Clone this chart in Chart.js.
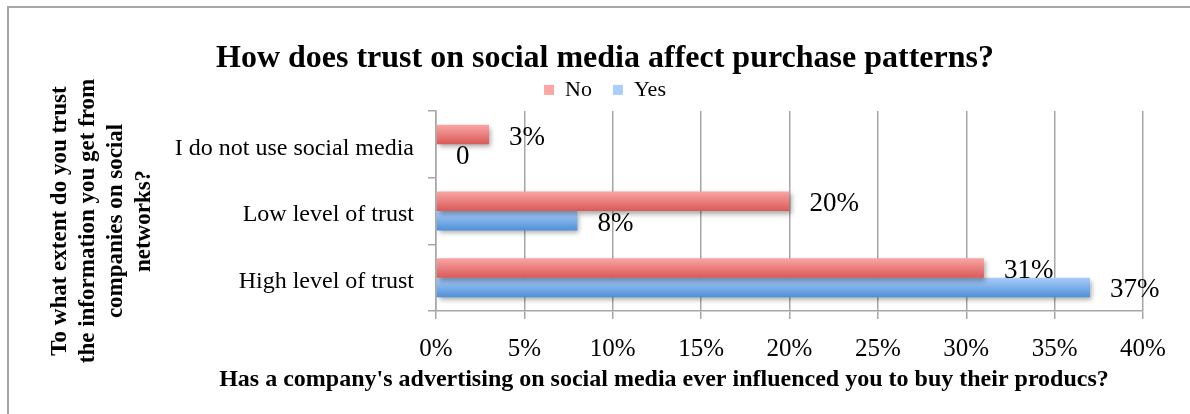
<!DOCTYPE html>
<html>
<head>
<meta charset="utf-8">
<title>Trust on social media and purchase patterns</title>
<script src="https://cdn.jsdelivr.net/npm/chart.js@4.4.1/dist/chart.umd.min.js"></script>
<style>
  html, body { margin: 0; padding: 0; background: #fff; }
  #frame { position: relative; width: 1190px; height: 414px; }
</style>
</head>
<body>
<div id="frame">
  <canvas id="trustChart" width="1190" height="414"></canvas>
</div>
<script>
// categories, top to bottom
const trustLevels = ['I do not use social media', 'Low level of trust', 'High level of trust'];
// share of respondents (%) per answer
const noValues = [3, 20, 31];
const yesValues = [0, 8, 37];
// x axis ticks
const xMin = 0;
const xMax = 40;
const xStep = 5;

const chartTitle = 'How does trust on social media affect purchase patterns?';
const xTitle = "Has a company's advertising on social media ever influenced you to buy their producs?";
const yTitle = ['To what extent do you trust', 'the information you get from', 'companies on social', 'networks?'];

const SERIF = "'Liberation Serif', 'Times New Roman', serif";
const GRID = '#a6a6a6';

Chart.defaults.font.family = SERIF;
Chart.defaults.color = '#000';

// vertical gradient across each bar, light on top
function barFill(top, bottom, flat) {
    return ctx => {
        const el = ctx.element;
        if (!el || el.y == null || isNaN(el.y) || !el.height) return flat;
        const g = ctx.chart.ctx.createLinearGradient(0, el.y - el.height / 2, 0, el.y + el.height / 2);
        g.addColorStop(0, top);
        g.addColorStop(1, bottom);
        return g;
    };
}

function valueLabel(v) {
    return v === 0 ? '0' : v + '%';
}

// soft drop shadow under the bars
const barShadow = {
    id: 'barShadow',
    beforeDatasetsDraw(chart) {
        const c = chart.ctx;
        c.save();
        c.shadowColor = 'rgba(0, 0, 0, 0.35)';
        c.shadowBlur = 5;
        c.shadowOffsetX = 2;
        c.shadowOffsetY = 3;
    },
    afterDatasetsDraw(chart) {
        chart.ctx.restore();
    }
};

// value labels to the right of each bar
const valueLabels = {
    id: 'valueLabels',
    afterDatasetsDraw(chart) {
        const c = chart.ctx;
        c.save();
        c.font = '27px ' + SERIF;
        c.fillStyle = '#000';
        c.textAlign = 'left';
        c.textBaseline = 'middle';
        chart.data.datasets.forEach((ds, di) => {
            chart.getDatasetMeta(di).data.forEach((bar, i) => {
                c.fillText(valueLabel(ds.data[i]), bar.x + 20, bar.y + 3);
            });
        });
        c.restore();
    }
};

// frame lines and the two axis titles
const chartDecor = {
    id: 'chartDecor',
    beforeDraw(chart) {
        const c = chart.ctx;
        c.save();
        c.strokeStyle = GRID;
        c.lineWidth = 2;
        c.beginPath();
        c.moveTo(8, chart.height);
        c.lineTo(8, 7);
        c.lineTo(chart.width, 7);
        c.stroke();
        c.restore();
    },
    afterDraw(chart) {
        const c = chart.ctx;
        c.save();
        c.fillStyle = '#000';
        c.textAlign = 'center';
        c.textBaseline = 'middle';
        c.font = 'bold 24px ' + SERIF;
        c.fillText(xTitle, 664, 380);
        c.font = 'bold 23px ' + SERIF;
        yTitle.forEach((line, i) => {
            c.save();
            c.translate(60 + i * 28, 221);
            c.rotate(-Math.PI / 2);
            c.fillText(line, 0, 0);
            c.restore();
        });
        c.restore();
    }
};

const chart = new Chart(document.getElementById('trustChart'), {
    type: 'bar',
    data: {
        labels: trustLevels,
        datasets: [
            {
                label: 'No',
                data: noValues,
                backgroundColor: barFill('#f9a6a4', '#d95a58', '#e46e6b'),
                categoryPercentage: 0.585,
                barPercentage: 1
            },
            {
                label: 'Yes',
                data: yesValues,
                backgroundColor: barFill('#aacdfa', '#4f90d8', '#6aa3e4'),
                categoryPercentage: 0.585,
                barPercentage: 1
            }
        ]
    },
    options: {
        indexAxis: 'y',
        responsive: false,
        devicePixelRatio: 1,
        animation: false,
        layout: { padding: { left: 67, right: 47, top: 3, bottom: 0 } },
        plugins: {
            title: {
                display: true,
                text: chartTitle,
                font: { size: 32, weight: 'bold' },
                color: '#000',
                padding: { top: 37, bottom: -20.5 }
            },
            legend: {
                display: true,
                position: 'top',
                labels: {
                    boxWidth: 10,
                    boxHeight: 10,
                    padding: 21,
                    color: '#000',
                    font: { size: 22 }
                }
            },
            tooltip: { enabled: false }
        },
        scales: {
            x: {
                min: xMin,
                max: xMax,
                afterFit: s => { s.height = 103; },
                ticks: {
                    stepSize: xStep,
                    callback: v => v + '%',
                    font: { size: 25 },
                    color: '#000',
                    padding: 15
                },
                grid: { color: GRID, lineWidth: 1.5, tickLength: 8 },
                border: { color: GRID, width: 1.5 }
            },
            y: {
                afterFit: s => { s.width = 369; },
                ticks: {
                    font: { size: 24 },
                    color: '#000',
                    padding: 14,
                    labelOffset: 4
                },
                grid: { color: GRID, lineWidth: 1.5, tickLength: 8, drawOnChartArea: false },
                border: { color: GRID, width: 1.5 }
            }
        }
    },
    plugins: [chartDecor, barShadow, valueLabels]
});

// second pass so the bar gradients pick up the laid-out bar positions
chart.update();
</script>
</body>
</html>
